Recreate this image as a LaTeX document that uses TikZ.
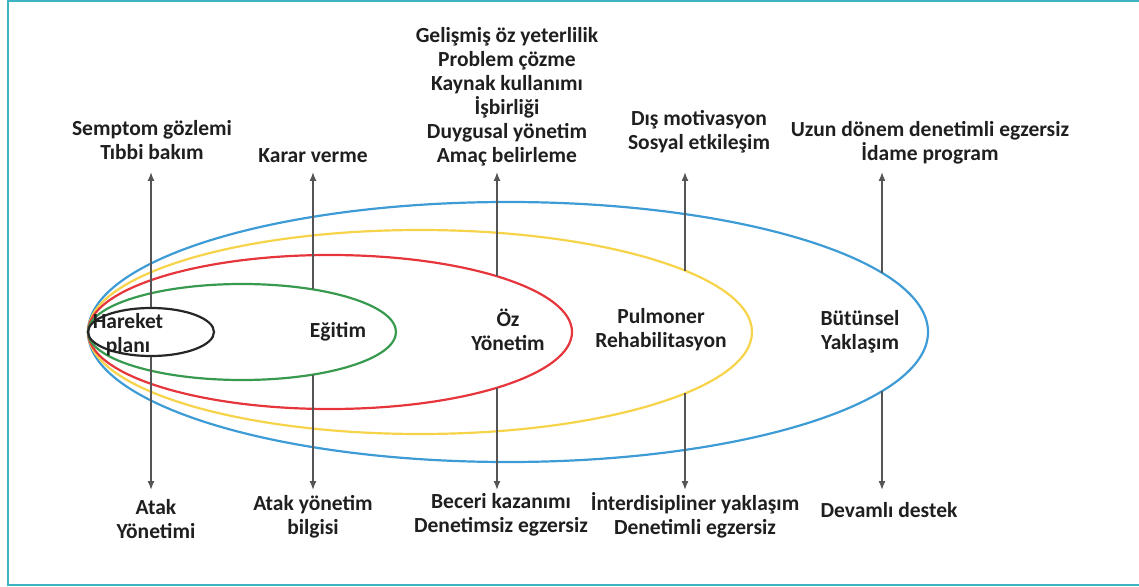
\documentclass[tikz,border=0pt]{standalone}
\usepackage{fontspec}
\setmainfont{Carlito}
\usetikzlibrary{arrows.meta,shapes.geometric}

\definecolor{frameteal}{HTML}{3DB4C1}
\definecolor{ringblue}{HTML}{3D9BD6}
\definecolor{ringyellow}{HTML}{F6D349}
\definecolor{ringred}{HTML}{E6363C}
\definecolor{ringgreen}{HTML}{389A4E}
\definecolor{arrowgray}{HTML}{555555}

\begin{document}
\begin{tikzpicture}[
    x=1bp, y=-1bp,
    ring/.style={ellipse, draw, line width=2.2bp, inner sep=0pt},
    txt/.style={font=\bfseries\fontsize{21.6}{24}\selectfont, align=center, inner sep=2pt, text=black!88},
    arrow/.style={-{Latex[length=9bp,width=7bp]}, line width=1.4bp, arrowgray}
]
\useasboundingbox (0,0) rectangle (1139,587);
\draw[frameteal, line width=2bp] (1139,1) -- (8,1) -- (8,585) -- (1139,585);

% nested rings, all touching at the left
\node[ring, draw=ringblue, minimum width=840bp, minimum height=260bp] (bt) at (508,332) {};
\node[ring, draw=ringyellow, minimum width=664bp, minimum height=204bp] (pr) at (420,332) {};
\node[ring, draw=ringred, minimum width=484bp, minimum height=154bp] (oz) at (330,332) {};
\node[ring, draw=ringgreen, minimum width=308bp, minimum height=96bp] (eg) at (242,332) {};
\node[ring, draw=black!85, minimum width=126bp, minimum height=48bp] (hp) at (151,332) {};

\node[txt] (hp-txt) at (128,335) {Hareket\\planı};
\node[txt] (eg-txt) at (338,332) {Eğitim};
\node[txt] (oz-txt) at (508,330) {Öz\\Yönetim};
\node[txt] (pr-txt) at (661,330) {Pulmoner\\Rehabilitasyon};
\node[txt] (bt-txt) at (860,332) {Bütünsel\\Yaklaşım};

% labels above
\node[txt] (hp-up) at (152,140) {Semptom gözlemi\\Tıbbi bakım};
\node[txt] (eg-up) at (313,156) {Karar verme};
\node[txt] (oz-up) at (507,97) {Gelişmiş öz yeterlilik\\Problem çözme\\Kaynak kullanımı\\İşbirliği\\Duygusal yönetim\\Amaç belirleme};
\node[txt] (pr-up) at (699,132) {Dış motivasyon\\Sosyal etkileşim};
\node[txt] (bt-up) at (930,143) {Uzun dönem denetimli egzersiz\\İdame program};

% labels below
\node[txt] (hp-dn) at (156,519) {Atak\\Yönetimi};
\node[txt] (eg-dn) at (313,517) {Atak yönetim\\bilgisi};
\node[txt] (oz-dn) at (501,515) {Beceri kazanımı\\Denetimsiz egzersiz};
\node[txt] (pr-dn) at (695,515) {İnterdisipliner yaklaşım\\Denetimli egzersiz};
\node[txt] (bt-dn) at (889,510) {Devamlı destek};

% where the arrows leave the rings
\coordinate (eg-t) at (313,289.4);  \coordinate (eg-b) at (313,374.6);
\coordinate (oz-t) at (497,276.3);  \coordinate (oz-b) at (497,387.7);
\coordinate (pr-t) at (685,270.6);  \coordinate (pr-b) at (685,393.4);
\coordinate (bt-t) at (882,272.8);  \coordinate (bt-b) at (882,391.2);

% arrow tips
\foreach \n/\x in {hp/151, eg/313, oz/497, pr/685, bt/882} {
  \coordinate (\n-up-tip) at (\x,172);
  \coordinate (\n-dn-tip) at (\x,490);
}

\draw[arrow] (hp.north) -- (hp-up-tip);
\draw[arrow] (hp.south) -- (hp-dn-tip);
\draw[arrow] (eg-t) -- (eg-up-tip);
\draw[arrow] (eg-b) -- (eg-dn-tip);
\draw[arrow] (oz-t) -- (oz-up-tip);
\draw[arrow] (oz-b) -- (oz-dn-tip);
\draw[arrow] (pr-t) -- (pr-up-tip);
\draw[arrow] (pr-b) -- (pr-dn-tip);
\draw[arrow] (bt-t) -- (bt-up-tip);
\draw[arrow] (bt-b) -- (bt-dn-tip);
\end{tikzpicture}
\end{document}
